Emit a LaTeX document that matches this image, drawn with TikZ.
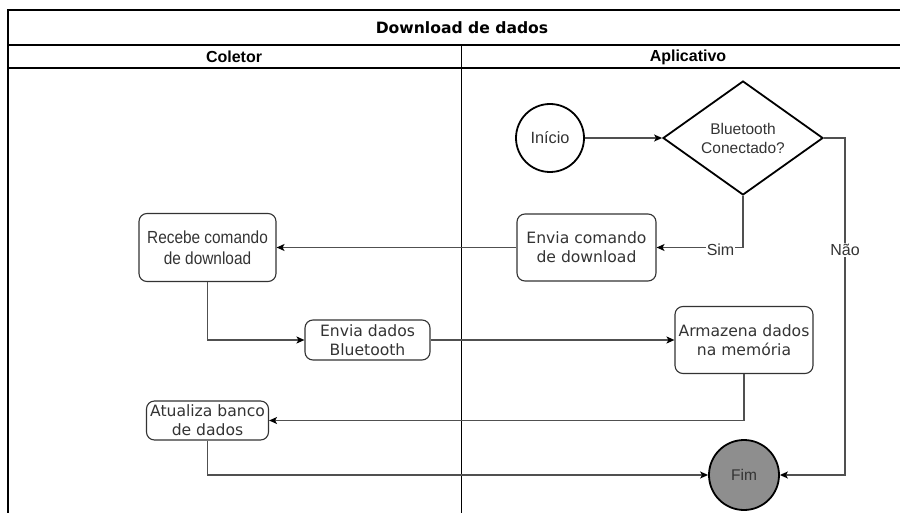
\documentclass[tikz,border=0pt]{standalone}
\usepackage{fontspec}
\setmainfont{Liberation Sans}
\newfontfamily\dvs{DejaVu Sans}
\newfontfamily\narrowsans[FakeStretch=0.88]{Liberation Sans}
\usetikzlibrary{arrows.meta,shapes.geometric}
\definecolor{txt}{HTML}{333333}
\definecolor{lnk}{HTML}{505050}
\definecolor{fimfill}{HTML}{8E8E8E}
\tikzset{
  frame/.style={line width=1.3pt,black},
  boxnode/.style={draw=txt,line width=1.1pt,rounded corners=8pt,text=txt,align=center,inner sep=0pt,
    font=\dvs\fontsize{15.6}{19}\selectfont},
  arialtext/.style={font=\fontsize{15.5}{19}\selectfont},
  conn/.style={draw=lnk,line width=1.4pt,-{Stealth[length=8pt,width=7pt,inset=2pt,color=black]}},
  lbl/.style={fill=white,inner sep=1pt,text=txt,font=\fontsize{16}{18}\selectfont},
}
\begin{document}
\begin{tikzpicture}[x=1pt,y=-1pt]
\useasboundingbox (0,0) rectangle (900,513);
% pool frame
\draw[frame] (8,513) -- (8,10) -- (900,10);
\draw[frame] (8,45) -- (900,45);
\draw[frame] (8,68) -- (900,68);
\draw[frame,line width=1pt] (461,45) -- (461,513);
\node[font=\dvs\bfseries\fontsize{15.6}{19}\selectfont] (title) at (462,28) {Download de dados};
\node[font=\bfseries\fontsize{16}{19}\selectfont] (lane1) at (234,57) {Coletor};
\node[font=\bfseries\fontsize{16}{19}\selectfont] (lane2) at (688,57) {Aplicativo};
% nodes
\node[circle,draw=black,line width=1.8pt,minimum size=68pt,inner sep=0pt,text=txt,font=\fontsize{16.3}{19}\selectfont] (inicio) at (550,138) {Início};
\node[diamond,draw=black,line width=1.8pt,minimum width=160pt,minimum height=94pt,inner sep=0pt,text=txt,align=center,arialtext] (diamond) at (743,138) {Bluetooth\\Conectado?};
\node[boxnode,minimum width=139pt,minimum height=67pt] (envcmd) at (586.5,247.5) {Envia comando\\de download};
\node[boxnode,minimum width=137pt,minimum height=68pt,font=\narrowsans\fontsize{17.5}{21}\selectfont] (recebe) at (207.5,247.5) {Recebe comando\\de download};
\node[boxnode,minimum width=125pt,minimum height=40pt] (envdados) at (367.5,340) {Envia dados\\Bluetooth};
\node[boxnode,minimum width=138pt,minimum height=67pt] (armazena) at (744,340) {Armazena dados\\na memória};
\node[boxnode,minimum width=122pt,minimum height=39pt] (atualiza) at (207.5,420.5) {Atualiza banco\\de dados};
\node[circle,draw=black,line width=1.8pt,fill=fimfill,minimum size=70pt,inner sep=0pt,text=txt,font=\fontsize{15.5}{19}\selectfont] (fim) at (744,475) {Fim};
\coordinate (nao) at (845,475);
% connectors
\draw[conn] (inicio) -- (diamond.west);
\draw[conn] (diamond.south) |- node[lbl,pos=0.63,yshift=-2pt]{Sim} (envcmd.east);
\draw[conn] (diamond.east) -| node[lbl,pos=0.666]{Não} (nao) -- (fim.east);
\draw[conn] (envcmd.west) -- (recebe.east);
\draw[conn] (recebe.south) |- (envdados.west);
\draw[conn] (envdados.east) -- (armazena.west);
\draw[conn] (armazena.south) |- (atualiza.east);
\draw[conn] (atualiza.south) |- (fim.west);
\end{tikzpicture}
\end{document}
